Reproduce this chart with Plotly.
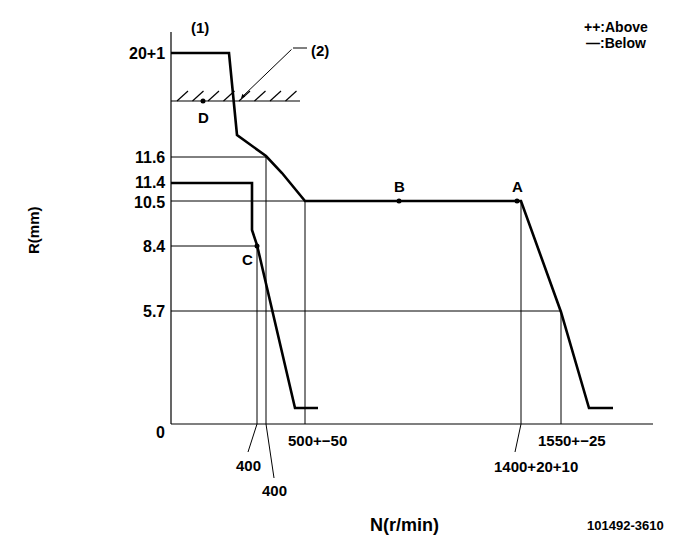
import plotly.graph_objects as go

# Schematic governor diagram (diagram units: N position, R position)
upper_N = [0, 58, 66, 95, 111, 134, 350, 370, 390, 418, 442]
upper_R = [371, 371, 289, 268, 251, 223, 223, 168, 112, 16, 16]

lower_N = [0, 81, 81, 86, 124, 147]
lower_R = [241, 241, 194, 179, 16, 16]

# y tick labels and their schematic positions
r_ticks = ["20+1", "11.6", "11.4", "10.5", "8.4", "5.7", "0"]
r_pos = [371, 267, 242, 222, 178, 113, -8]

# reference (thin) lines: horizontal at R, from N=0 to N_end
href_R = [267, 223, 178, 113]
href_N = [95, 134, 86, 390]
# vertical at N, from R=0 to R_top
vref_N = [86, 95, 134, 350, 390]
vref_R = [178, 267, 223, 223, 113]

# points
pt_names = ["D", "B", "A", "C"]
pt_N = [32, 228, 346, 86]
pt_R = [323, 223, 223, 178]
pt_lblN = [32, 228, 346, 76]
pt_lblR = [307, 238, 238, 165]

# speed labels
n_labels = ["400", "400", "500+−50", "1400+20+10", "1550+−25"]
n_lblN = [77, 103, 146, 365, 401]
n_lblR = [-41, -66, -16, -42, -16]
# leaders from axis to label
lead_N0 = [86, 95, 350]
lead_N1 = [77, 103, 344]
lead_R1 = [-28, -54, -28]

stop_R = 323  # hatched stop line
stop_N_end = 129

FONT = "Liberation Sans, Arial, sans-serif"

fig = go.Figure()

def seg(xs, ys, w=1):
    fig.add_trace(go.Scatter(x=xs, y=ys, mode="lines",
                             line=dict(color="black", width=w),
                             hoverinfo="skip", showlegend=False))

# axes
seg([0, 0], [0, 392], 1.2)
seg([0, 482], [0, 0], 1.2)

# reference lines
hx, hy = [], []
for r, n in zip(href_R, href_N):
    hx += [0, n, None]; hy += [r, r, None]
for n, r in zip(vref_N, vref_R):
    hx += [n, n, None]; hy += [0, r, None]
for n0, n1, r1 in zip(lead_N0, lead_N1, lead_R1):
    hx += [n0, n1, None]; hy += [0, r1, None]
seg(hx, hy, 1)

# stop line with hatching
seg([0, stop_N_end], [stop_R, stop_R], 1.2)
hatx, haty = [], []
x = 6
while x + 11 <= stop_N_end + 2:
    hatx += [x, x + 11, None]; haty += [stop_R, stop_R + 10, None]
    x += 15.5
seg(hatx, haty, 1.2)

# curves
seg(upper_N, upper_R, 2.6)
seg(lower_N, lower_R, 2.6)

# (2) leader horizontal
seg([122, 136], [376, 376], 1)

# points
fig.add_trace(go.Scatter(x=pt_N, y=pt_R, mode="markers",
                         marker=dict(color="black", size=5),
                         hoverinfo="skip", showlegend=False))

ann = []
def txt(x, y, t, size=16, xanchor="center", angle=0):
    ann.append(dict(x=x, y=y, xref="x", yref="y", text=t, showarrow=False,
                    xanchor=xanchor, yanchor="middle", textangle=angle,
                    font=dict(family=FONT, size=size, color="black",
                              weight="bold")))

for t, r in zip(r_ticks, r_pos):
    if t == "0":
        txt(-11, r, t, 16, "center")
    else:
        txt(-4, r, t, 16, "right")

for t, n, r in zip(pt_names, pt_lblN, pt_lblR):
    txt(n, r, t, 15)

for t, n, r in zip(n_labels, n_lblN, n_lblR):
    txt(n, r, t, 15)

txt(29, 397, "(1)", 15)
txt(149, 374, "(2)", 15)
txt(445, 397, "++:Above", 14, "center")
txt(445, 381, "—:Below", 14, "center")
txt(-138, 194, "R(mm)", 15, angle=-90)
txt(233, -101, "N(r/min)", 18)
txt(454, -101, "101492-3610", 13)

ann.append(dict(x=70, y=326, ax=122, ay=376, xref="x", yref="y",
                axref="x", ayref="y", text="", showarrow=True,
                arrowhead=2, arrowsize=0.8, arrowwidth=1, arrowcolor="black"))

# page body has an 8px margin, so offset ranges to keep the layout in place
fig.update_layout(
    width=681, height=549,
    margin=dict(l=0, r=0, t=0, b=0),
    plot_bgcolor="white", paper_bgcolor="white",
    xaxis=dict(range=[-163, 518], visible=False, fixedrange=True),
    yaxis=dict(range=[-133, 416], visible=False, fixedrange=True),
    annotations=ann,
    showlegend=False,
)

fig.write_html("out.html")
